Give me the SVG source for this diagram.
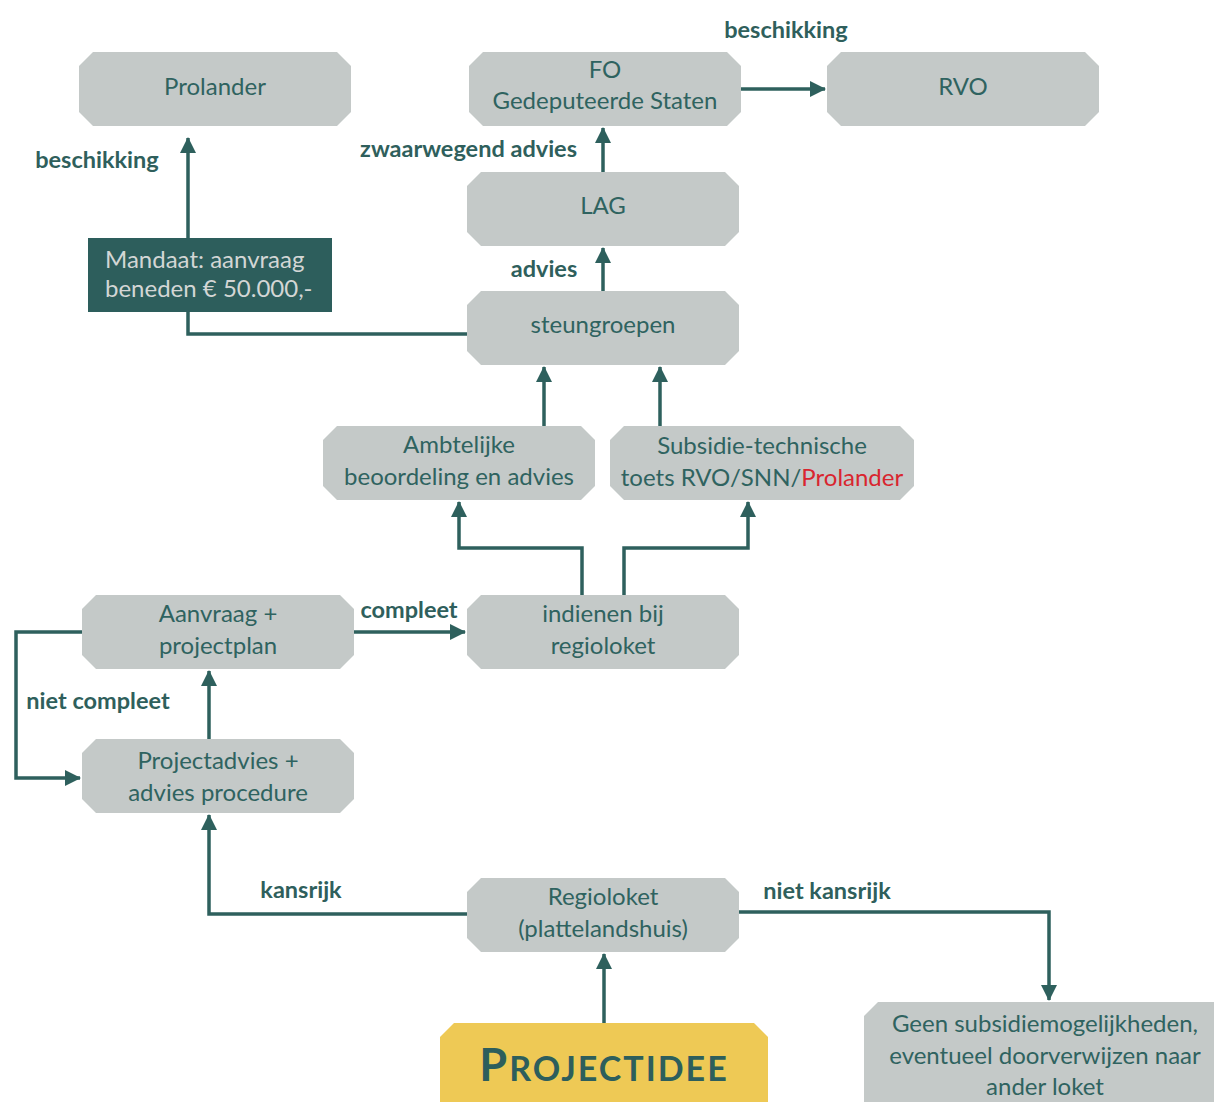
<svg xmlns="http://www.w3.org/2000/svg" width="1214" height="1102" viewBox="0 0 1214 1102">
<defs>
<style>
.n{fill:#c4c9c8}
.t{font-family:Lato,"Open Sans",sans-serif;font-size:24px;fill:#2f6360;text-anchor:middle}
.l{font-family:Lato,"Open Sans",sans-serif;font-size:23.5px;font-weight:bold;fill:#2f5f5c}
.c{fill:none;stroke:#2e605d;stroke-width:3.5}
</style>
<marker id="a" markerUnits="userSpaceOnUse" markerWidth="16" markerHeight="16" viewBox="0 0 16 16" refX="15" refY="8" orient="auto">
<path d="M0,0 L16,8 L0,16 z" fill="#2e605d"/>
</marker>
</defs>
<rect width="1214" height="1102" fill="#fff"/>
<g id="connectors">
<path class="c" d="M741,89 H825" marker-end="url(#a)"/>
<path class="c" d="M603,172 V128" marker-end="url(#a)"/>
<path class="c" d="M603,291 V248" marker-end="url(#a)"/>
<path class="c" d="M467,334 H188 V138" marker-end="url(#a)"/>
<path class="c" d="M544,426 V367" marker-end="url(#a)"/>
<path class="c" d="M660,426 V367" marker-end="url(#a)"/>
<path class="c" d="M582,595 V548 H459 V502" marker-end="url(#a)"/>
<path class="c" d="M624,595 V548 H748 V502" marker-end="url(#a)"/>
<path class="c" d="M354,632 H465" marker-end="url(#a)"/>
<path class="c" d="M82,632 H16 V778 H80" marker-end="url(#a)"/>
<path class="c" d="M209,739 V671" marker-end="url(#a)"/>
<path class="c" d="M467,914 H209 V815" marker-end="url(#a)"/>
<path class="c" d="M739,912 H1049 V1000" marker-end="url(#a)"/>
<path class="c" d="M604,1023 V954" marker-end="url(#a)"/>
</g>
<g id="labels">
<text class="l" x="786" y="38" text-anchor="middle">beschikking</text>
<text class="l" x="577" y="157" text-anchor="end">zwaarwegend advies</text>
<text class="l" x="544" y="277" text-anchor="middle">advies</text>
<text class="l" x="97" y="168" text-anchor="middle">beschikking</text>
<text class="l" x="409" y="618" text-anchor="middle">compleet</text>
<text class="l" x="98" y="709" text-anchor="middle">niet compleet</text>
<text class="l" x="301" y="898" text-anchor="middle">kansrijk</text>
<text class="l" x="827" y="899" text-anchor="middle">niet kansrijk</text>
</g>
<g id="prolander">
<path class="n" d="M93,52 H337 L351,66 V112 L337,126 H93 L79,112 V66 z"/>
<text class="t" x="215" y="95">Prolander</text>
</g>
<g id="fo">
<path class="n" d="M483,52 H727 L741,66 V112 L727,126 H483 L469,112 V66 z"/>
<text class="t" x="605" y="78">FO</text>
<text class="t" x="605" y="109">Gedeputeerde Staten</text>
</g>
<g id="rvo">
<path class="n" d="M841,52 H1085 L1099,66 V112 L1085,126 H841 L827,112 V66 z"/>
<text class="t" x="963" y="95">RVO</text>
</g>
<g id="lag">
<path class="n" d="M481,172 H725 L739,186 V232 L725,246 H481 L467,232 V186 z"/>
<text class="t" x="603" y="214">LAG</text>
</g>
<g id="mandaat">
<rect x="88" y="238" width="244" height="74" fill="#2d5e5c"/>
<text class="t" x="105" y="268" style="fill:#d3d6d5;text-anchor:start">Mandaat: aanvraag</text>
<text class="t" x="105" y="297" style="fill:#d3d6d5;text-anchor:start">beneden € 50.000,-</text>
</g>
<g id="steungroepen">
<path class="n" d="M481,291 H725 L739,305 V351 L725,365 H481 L467,351 V305 z"/>
<text class="t" x="603" y="333">steungroepen</text>
</g>
<g id="ambtelijke">
<path class="n" d="M337,426 H581 L595,440 V486 L581,500 H337 L323,486 V440 z"/>
<text class="t" x="459" y="453">Ambtelijke</text>
<text class="t" x="459" y="485">beoordeling en advies</text>
</g>
<g id="subsidie">
<path class="n" d="M624,426 H900 L914,440 V486 L900,500 H624 L610,486 V440 z"/>
<text class="t" x="762" y="454">Subsidie-technische</text>
<text class="t" x="762" y="486">toets RVO/SNN/<tspan fill="#d9252f">Prolander</tspan></text>
</g>
<g id="aanvraag">
<path class="n" d="M96,595 H340 L354,609 V655 L340,669 H96 L82,655 V609 z"/>
<text class="t" x="218" y="622">Aanvraag +</text>
<text class="t" x="218" y="654">projectplan</text>
</g>
<g id="indienen">
<path class="n" d="M481,595 H725 L739,609 V655 L725,669 H481 L467,655 V609 z"/>
<text class="t" x="603" y="622">indienen bij</text>
<text class="t" x="603" y="654">regioloket</text>
</g>
<g id="projectadvies">
<path class="n" d="M96,739 H340 L354,753 V799 L340,813 H96 L82,799 V753 z"/>
<text class="t" x="218" y="769">Projectadvies +</text>
<text class="t" x="218" y="801">advies procedure</text>
</g>
<g id="regioloket">
<path class="n" d="M481,878 H725 L739,892 V938 L725,952 H481 L467,938 V892 z"/>
<text class="t" x="603" y="905">Regioloket</text>
<text class="t" x="603" y="937">(plattelandshuis)</text>
</g>
<g id="projectidee">
<path d="M454,1023 H754 L768,1037 V1102 H440 V1037 z" fill="#eec955"/>
<text x="604" y="1081" text-anchor="middle" style="font-family:Lato,'Open Sans',sans-serif;font-weight:bold;font-size:34px;fill:#2d5e5c;letter-spacing:2px"><tspan font-size="45">P</tspan>ROJECTIDEE</text>
</g>
<g id="geen">
<path class="n" d="M878,1002 H1214 V1102 H864 V1016 z"/>
<text class="t" x="1045" y="1032">Geen subsidiemogelijkheden,</text>
<text class="t" x="1045" y="1064">eventueel doorverwijzen naar</text>
<text class="t" x="1045" y="1095">ander loket</text>
</g>
</svg>
